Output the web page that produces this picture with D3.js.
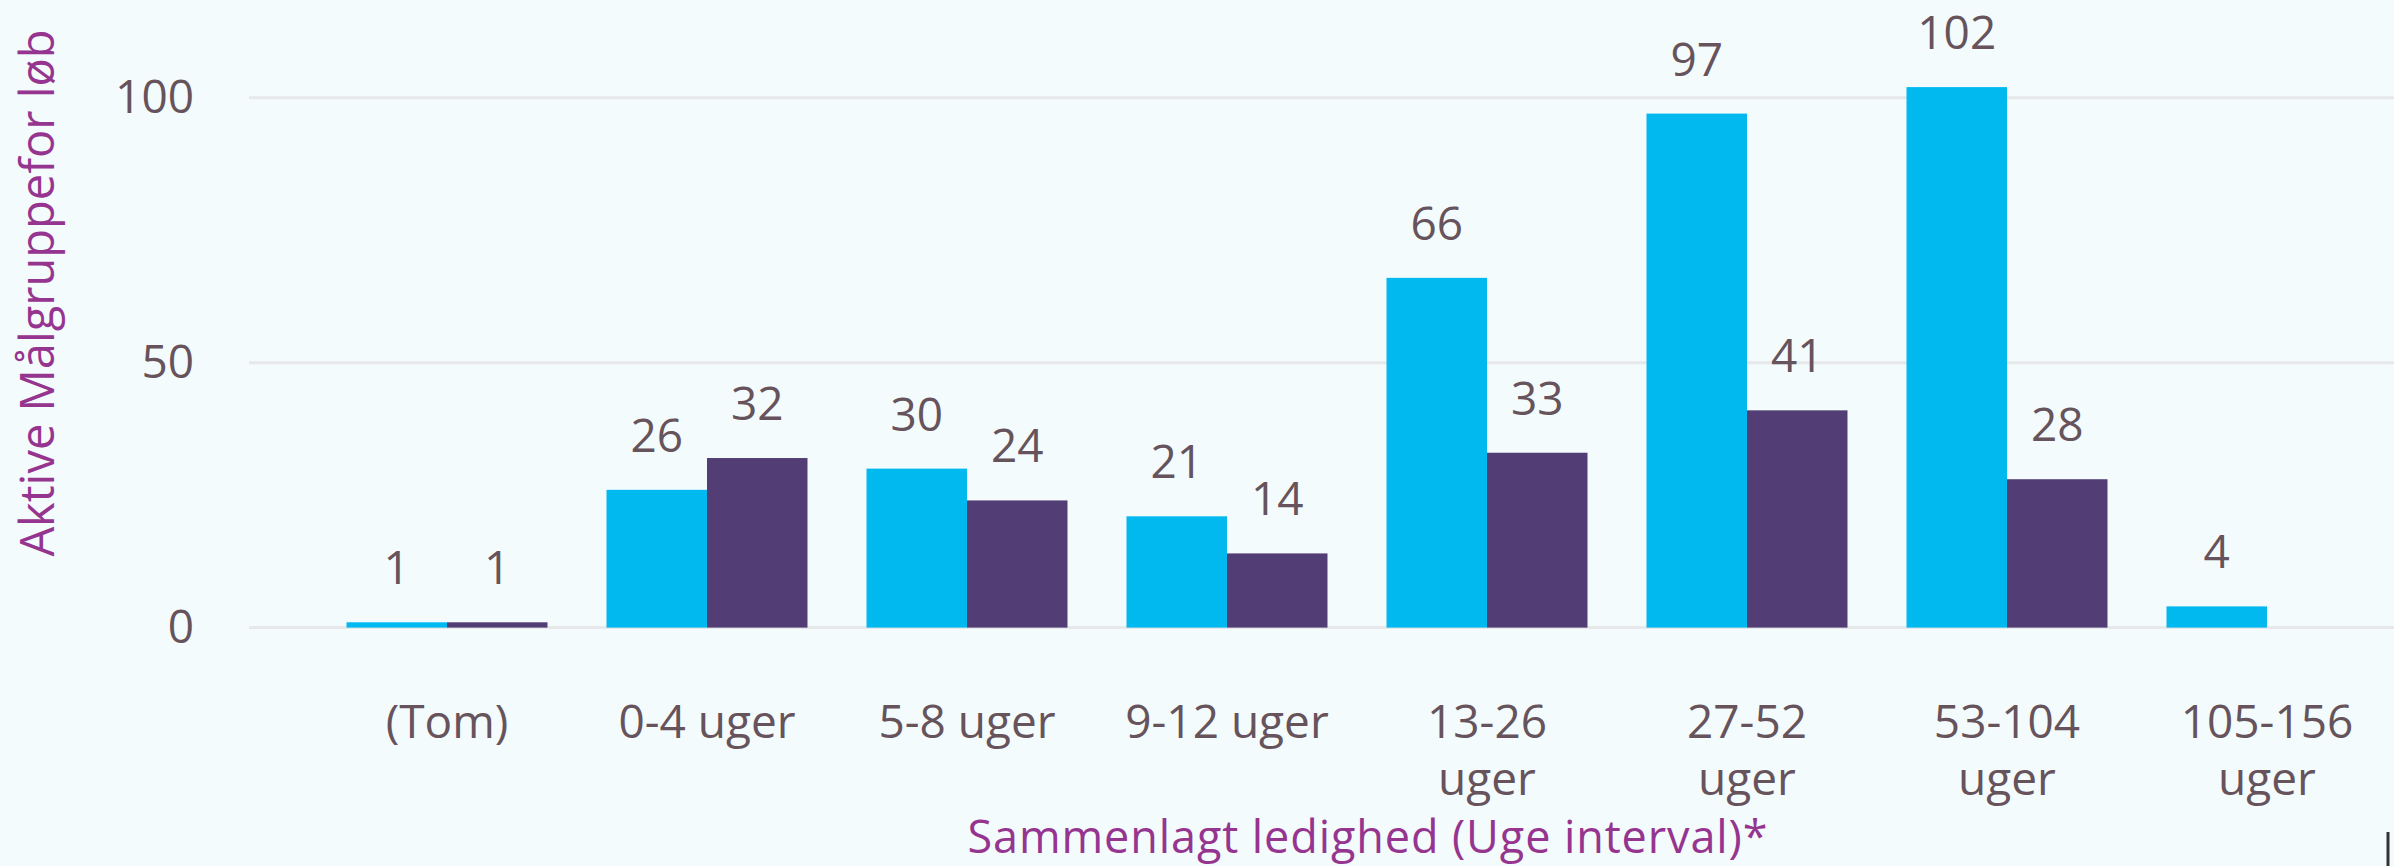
<!DOCTYPE html>
<html>
<head>
<meta charset="utf-8">
<script src="https://cdn.jsdelivr.net/npm/d3@7"></script>
<style>
  html, body { margin: 0; padding: 0; background: #f3fbfd; overflow: hidden; }
  svg { display: block; font-family: "Segoe UI", "Open Sans", sans-serif; }
</style>
</head>
<body>
<div id="chart"></div>
<script>
// data
const categories = ["(Tom)", "0-4 uger", "5-8 uger", "9-12 uger", "13-26 uger", "27-52 uger", "53-104 uger", "105-156 uger"];
const seriesNames = ["serie1", "serie2"];
const serie1 = [1, 26, 30, 21, 66, 97, 102, 4];
const serie2 = [1, 32, 24, 14, 33, 41, 28, null];
const yTicks = [0, 50, 100];
const yTitle = "Aktive Målgruppefor løb";
const xTitle = "Sammenlagt ledighed (Uge interval)*";

const width = 2394, height = 866;
const margin = { top: 98, bottom: 238, left: 249, right: 0 };

const svg = d3.select("#chart").append("svg")
    .attr("width", width)
    .attr("height", height);

svg.append("rect")
    .attr("width", width)
    .attr("height", height)
    .attr("fill", "#f3fbfd");

const data = categories.map((c, i) => ({ cat: c, values: [serie1[i], serie2[i]] }));

const x = d3.scaleBand()
    .domain(categories)
    .range([317, 2397])
    .paddingInner(0.227)
    .paddingOuter(0.1135);

const x1 = d3.scaleBand()
    .domain(seriesNames)
    .range([0, x.bandwidth()]);

const y = d3.scaleLinear()
    .domain([0, 100])
    .range([627.6, 97.7]);

const color = d3.scaleOrdinal()
    .domain(seriesNames)
    .range(["#01b8ef", "#523d74"]);

const textColor = "#66535b";
const titleColor = "#96358f";

// gridlines
svg.append("g")
    .selectAll("line")
    .data(yTicks)
    .join("line")
    .attr("x1", margin.left)
    .attr("x2", width)
    .attr("y1", d => y(d))
    .attr("y2", d => y(d))
    .attr("stroke", "#e6e8e9")
    .attr("stroke-width", 3);

// y axis labels
const yAxis = svg.append("g")
    .attr("transform", "translate(194,0)")
    .call(d3.axisLeft(y).tickValues(yTicks).tickSize(0).tickPadding(0));
yAxis.select(".domain").remove();
yAxis.selectAll("text")
    .attr("fill", textColor)
    .style("font-size", "46px")
    .style("font-family", "'Segoe UI', 'Open Sans', sans-serif");

// bars
const groups = svg.append("g")
    .selectAll("g")
    .data(data)
    .join("g")
    .attr("transform", d => "translate(" + x(d.cat) + ",0)");

const bars = groups.selectAll("g")
    .data(d => d.values.map((v, i) => ({ key: seriesNames[i], value: v })).filter(e => e.value != null))
    .join("g");

bars.append("rect")
    .attr("x", d => x1(d.key))
    .attr("y", d => y(d.value))
    .attr("width", x1.bandwidth())
    .attr("height", d => y(0) - y(d.value))
    .attr("fill", d => color(d.key));

bars.append("text")
    .attr("x", d => x1(d.key) + x1.bandwidth() / 2)
    .attr("y", d => y(d.value) - 38)
    .attr("text-anchor", "middle")
    .attr("fill", textColor)
    .style("font-size", "46px")
    .text(d => d.value);

// category labels, wrapped like the original
const catLabels = svg.append("g")
    .selectAll("text")
    .data(categories)
    .join("text")
    .attr("x", d => x(d) + x.bandwidth() / 2)
    .attr("y", 738)
    .attr("text-anchor", "middle")
    .attr("fill", textColor)
    .style("font-size", "46px");

catLabels.each(function (d) {
    const parts = d.split(" ");
    const t = d3.select(this);
    if (parts[0].length > 4) {
        t.append("tspan").attr("x", x(d) + x.bandwidth() / 2).text(parts[0]);
        t.append("tspan").attr("x", x(d) + x.bandwidth() / 2).attr("dy", 57).text(parts[1]);
    } else {
        t.text(d);
    }
});

// axis titles
svg.append("text")
    .attr("transform", "translate(54," + 293 + ") rotate(-90)")
    .attr("text-anchor", "middle")
    .attr("fill", titleColor)
    .style("font-size", "47px")
    .text(yTitle);

svg.append("text")
    .attr("x", 1368)
    .attr("y", 853)
    .attr("text-anchor", "middle")
    .attr("fill", titleColor)
    .style("font-size", "45px")
    .style("letter-spacing", "0.9px")
    .text(xTitle);

// little dark edge at bottom right
svg.append("line")
    .attr("x1", 2388).attr("x2", 2388)
    .attr("y1", 832).attr("y2", height)
    .attr("stroke", "#333")
    .attr("stroke-width", 3);
</script>
</body>
</html>
